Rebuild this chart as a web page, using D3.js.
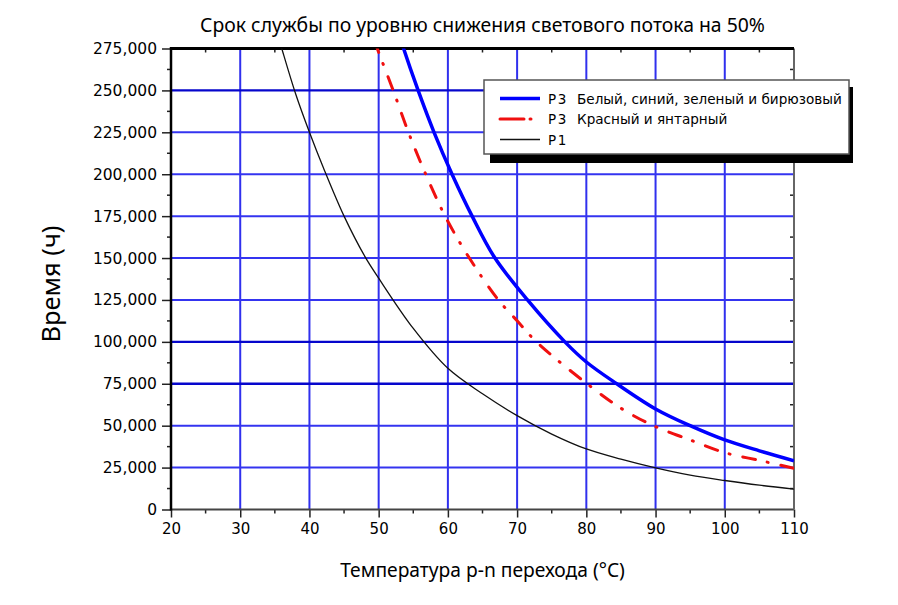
<!DOCTYPE html>
<html>
<head>
<meta charset="utf-8">
<script src="https://cdn.jsdelivr.net/npm/d3@7"></script>
<style>
  html, body { margin: 0; padding: 0; background: #fff; }
  svg { display: block; }
</style>
</head>
<body>
<svg id="chart" width="898" height="605"></svg>
<script>
// ---------------- data ----------------
const chartTitle = "Срок службы по уровню снижения светового потока на 50%";
const xAxisTitle = "Температура p-n перехода (°C)";
const yAxisTitle = "Время (ч)";

const xTicks = [20, 30, 40, 50, 60, 70, 80, 90, 100, 110];
const yTicks = [0, 25000, 50000, 75000, 100000, 125000, 150000, 175000, 200000, 225000, 250000, 275000];

const seriesNames = ["P3", "P3", "P1"];
const seriesDescriptions = ["Белый, синий, зеленый и бирюзовый", "Красный и янтарный", ""];

// temperature (°C), lifetime (h)
const blueTemps  = [53, 53.6, 55.7, 58, 60.6, 63.5, 66.8, 71.5, 76.9, 80, 84.4, 90, 95, 100, 105, 110];
const blueHours  = [283000, 275000, 250000, 225000, 200000, 175000, 150000, 125000, 100000, 88000, 75000, 60000, 50000, 41500, 35000, 29100];

const redTemps   = [49.4, 49.8, 52.1, 54.3, 56.8, 59.6, 63.1, 67.3, 70, 72.8, 80.1, 85, 89.7, 95, 100, 105, 110];
const redHours   = [280000, 275000, 250000, 225000, 200000, 175000, 150000, 125000, 112600, 100000, 75000, 60400, 50000, 41500, 33900, 29300, 24600];

const blackTemps = [35.5, 36, 38, 40, 42, 45, 48, 50, 55, 60, 65, 70, 75, 80, 85, 90, 95, 100, 105, 110];
const blackHours = [282000, 275000, 248000, 225000, 204000, 175000, 151000, 138000, 108000, 84200, 69000, 56000, 45000, 36100, 30000, 24800, 20500, 17300, 14500, 12200];

// ---------------- layout ----------------
const svg = d3.select("#chart");
const L = 171, R = 794, T = 48.5, B = 509.5;

const x = d3.scaleLinear().domain([20, 110]).range([L, R]);
const y = d3.scaleLinear().domain([0, 275000]).range([B, T]);

const xMinor = d3.range(25, 110, 10);
const yMinor = d3.range(12500, 275000, 25000);

svg.append("defs").append("clipPath").attr("id", "plotclip")
  .append("rect").attr("x", L).attr("y", T).attr("width", R - L).attr("height", B - T);

// grid
const strong = [250000, 100000, 75000];
const grid = svg.append("g");
grid.selectAll("line.gx").data(xTicks.slice(1, -1)).join("line")
  .attr("x1", d => x(d)).attr("x2", d => x(d)).attr("y1", T).attr("y2", B)
  .attr("stroke", "#3030ee").attr("stroke-width", 2);
grid.selectAll("line.gy").data(yTicks.slice(1, -1)).join("line")
  .attr("x1", L).attr("x2", R).attr("y1", d => y(d)).attr("y2", d => y(d))
  .attr("stroke", d => strong.includes(d) ? "#0606cc" : "#3434f0")
  .attr("stroke-width", d => strong.includes(d) ? 2.4 : 2);

// axes
const tickFont = "'DejaVu Sans', Verdana, sans-serif";
const gx = svg.append("g").attr("transform", `translate(0,${B})`)
  .call(d3.axisBottom(x).tickValues(xTicks).tickSize(8).tickPadding(6).tickFormat(d3.format("d")));
gx.select(".domain").remove();
gx.selectAll("text").attr("font-family", tickFont).attr("font-size", 15).attr("fill", "#000");
gx.selectAll("line").attr("stroke", "#222").attr("stroke-width", 1.5);

const gy = svg.append("g").attr("transform", `translate(${L},0)`)
  .call(d3.axisLeft(y).tickValues(yTicks).tickSize(9).tickPadding(5).tickFormat(d3.format(",")));
gy.select(".domain").remove();
gy.selectAll("text").attr("font-family", tickFont).attr("font-size", 15.5).attr("fill", "#000");
gy.selectAll("line").attr("stroke", "#222").attr("stroke-width", 1.5);

// minor ticks
const minor = svg.append("g").attr("stroke", "#222").attr("stroke-width", 1.5);
minor.selectAll("line.mb").data(xMinor).join("line")
  .attr("x1", d => x(d)).attr("x2", d => x(d)).attr("y1", B).attr("y2", B + 4);
minor.selectAll("line.mt").data(xMinor).join("line")
  .attr("x1", d => x(d)).attr("x2", d => x(d)).attr("y1", T).attr("y2", T + 4);
minor.selectAll("line.ml").data(yMinor).join("line")
  .attr("x1", L - 4).attr("x2", L).attr("y1", d => y(d)).attr("y2", d => y(d));
minor.selectAll("line.mr").data(yMinor).join("line")
  .attr("x1", R - 4).attr("x2", R).attr("y1", d => y(d)).attr("y2", d => y(d));

// frame
svg.append("line").attr("x1", L).attr("x2", R).attr("y1", B).attr("y2", B).attr("stroke", "#444").attr("stroke-width", 2);
svg.append("line").attr("x1", R).attr("x2", R).attr("y1", T).attr("y2", B).attr("stroke", "#666").attr("stroke-width", 2);
svg.append("line").attr("x1", L).attr("x2", R).attr("y1", T).attr("y2", T).attr("stroke", "#000").attr("stroke-width", 3);
svg.append("line").attr("x1", L).attr("x2", L).attr("y1", T - 1.5).attr("y2", B + 1).attr("stroke", "#000").attr("stroke-width", 2.5);

// curves
const line = d3.line().x(d => x(d[0])).y(d => y(d[1])).curve(d3.curveCatmullRom.alpha(0.5));
const curves = svg.append("g").attr("clip-path", "url(#plotclip)");
const blackData = d3.zip(blackTemps, blackHours);
const redData = d3.zip(redTemps, redHours);
const blueData = d3.zip(blueTemps, blueHours);

curves.append("path").datum(blackData).attr("d", line)
  .attr("fill", "none").attr("stroke", "#111").attr("stroke-width", 1.3);
curves.append("path").datum(redData).attr("d", line)
  .attr("fill", "none").attr("stroke", "#f01010").attr("stroke-width", 3)
  .attr("stroke-dasharray", "13,12,1,13").attr("stroke-linecap", "round");
curves.append("path").datum(blueData).attr("d", line)
  .attr("fill", "none").attr("stroke", "#0000ff").attr("stroke-width", 3.5);

// legend
const lg = svg.append("g");
lg.append("rect").attr("x", 490).attr("y", 87).attr("width", 363).attr("height", 76).attr("fill", "#000");
lg.append("rect").attr("x", 484).attr("y", 80).attr("width", 365).attr("height", 74)
  .attr("fill", "#fff").attr("stroke", "#555").attr("stroke-width", 1.5);
const legendStyles = [
  { stroke: "#0000ff", w: 3.5, dash: null },
  { stroke: "#f01010", w: 3, dash: "24,6,1,30" },
  { stroke: "#111", w: 1.5, dash: null }
];
const rows = lg.selectAll("g.row").data(seriesNames).join("g")
  .attr("transform", (d, i) => `translate(0,${98.5 + i * 20.5})`);
rows.append("line").attr("x1", 500).attr("x2", 540).attr("y1", 0).attr("y2", 0)
  .attr("stroke", (d, i) => legendStyles[i].stroke)
  .attr("stroke-width", (d, i) => legendStyles[i].w)
  .attr("stroke-dasharray", (d, i) => legendStyles[i].dash)
  .attr("stroke-linecap", (d, i) => i === 1 ? "round" : "butt");
rows.append("text").attr("x", 548).attr("y", 5).text(d => d)
  .attr("font-family", "'DejaVu Sans', sans-serif").attr("font-size", 13.5).attr("letter-spacing", 1.5);
rows.append("text").attr("x", 577).attr("y", 5).text((d, i) => seriesDescriptions[i])
  .attr("font-family", "'DejaVu Sans', sans-serif").attr("font-size", 13);

function fitWidth(sel, target) {
  const node = sel.node();
  const fs = parseFloat(sel.attr("font-size"));
  const w = node.getComputedTextLength();
  if (w > 0) sel.attr("font-size", fs * target / w);
}
fitWidth(rows.filter((d, i) => i === 0).select("text:nth-of-type(2)"), 265);
const redDesc = rows.filter((d, i) => i === 1).select("text:nth-of-type(2)");
redDesc.attr("font-size", rows.filter((d, i) => i === 0).select("text:nth-of-type(2)").attr("font-size"));

// titles
const titleSel = svg.append("text").attr("x", (L + R) / 2).attr("y", 32).attr("text-anchor", "middle")
  .attr("font-family", "'Noto Sans', 'Open Sans', sans-serif").attr("font-size", 16).text(chartTitle);
fitWidth(titleSel, 565);

const xt = svg.append("text").attr("x", (L + R) / 2).attr("y", 577).attr("text-anchor", "middle")
  .attr("font-family", "'Noto Sans', 'Open Sans', sans-serif").attr("font-size", 16).text(xAxisTitle);
fitWidth(xt, 285);

const yt = svg.append("text").attr("transform", `translate(60,${(T + B) / 2 + 5}) rotate(-90)`)
  .attr("text-anchor", "middle")
  .attr("font-family", "'Noto Sans', 'Open Sans', sans-serif").attr("font-size", 24).text(yAxisTitle);
fitWidth(yt, 117);
</script>
</body>
</html>
